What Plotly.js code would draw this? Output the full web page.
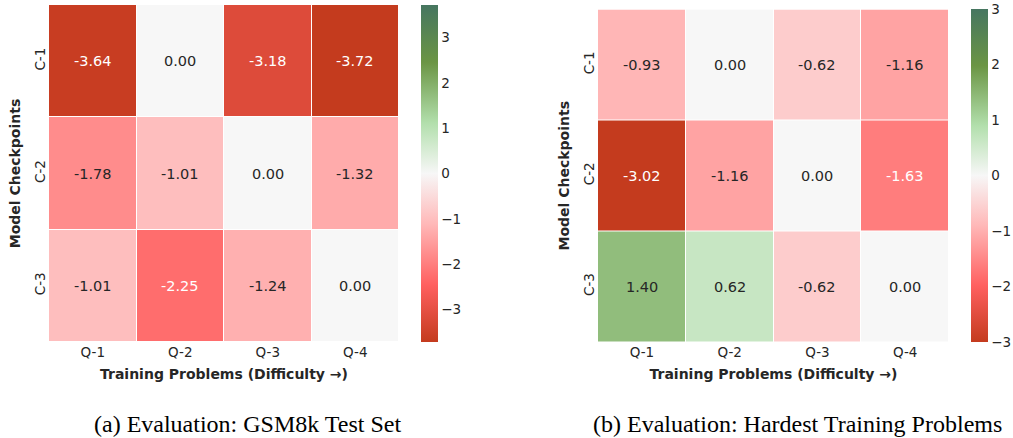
<!DOCTYPE html>
<html>
<head>
<meta charset="utf-8">
<script src="https://cdn.plot.ly/plotly-3.0.1.min.js"></script>
<style>
  html, body { margin: 0; padding: 0; background: #ffffff; }
  #chart { width: 1013px; height: 438px; }
</style>
</head>
<body>
<div id="chart"></div>
<script>
// ---- data ----
const problems = ['Q-1', 'Q-2', 'Q-3', 'Q-4'];
const checkpoints = ['C-1', 'C-2', 'C-3'];
const gsm8kValues = [
  [-3.64, 0.00, -3.18, -3.72],
  [-1.78, -1.01, 0.00, -1.32],
  [-1.01, -2.25, -1.24, 0.00]
];
const hardestValues = [
  [-0.93, 0.00, -0.62, -1.16],
  [-3.02, -1.16, 0.00, -1.63],
  [1.40, 0.62, -0.62, 0.00]
];
const gsm8kLimit = 3.72;
const hardestLimit = 3;
const colorbarTicks = [-3, -2, -1, 0, 1, 2, 3];
const captionA = '(a) Evaluation: GSM8k Test Set';
const captionB = '(b) Evaluation: Hardest Training Problems';
const xTitle = 'Training Problems (Difficulty \u2192)';
const yTitle = 'Model Checkpoints';

// ---- style ----
const W = 1013, H = 438;
const textDark = '#262626';
const colorscale = [
  [0.00, '#C43B1E'],
  [0.17, '#FF6060'],
  [0.35, '#FFB8B8'],
  [0.50, '#F7F7F7'],
  [0.65, '#B2DFAC'],
  [0.83, '#6B9544'],
  [1.00, '#467660']
];

function hexToRgb(h) {
  return [parseInt(h.slice(1,3),16), parseInt(h.slice(3,5),16), parseInt(h.slice(5,7),16)];
}
function colorAt(t) {
  t = Math.max(0, Math.min(1, t));
  for (let i = 1; i < colorscale.length; i++) {
    if (t <= colorscale[i][0]) {
      const [t0, c0] = colorscale[i-1], [t1, c1] = colorscale[i];
      const f = (t - t0) / (t1 - t0);
      const a = hexToRgb(c0), b = hexToRgb(c1);
      return a.map((v, k) => v + f * (b[k] - v));
    }
  }
  return hexToRgb(colorscale[colorscale.length-1][1]);
}
function luminance(rgb) {
  const lin = rgb.map(v => { v /= 255; return v <= 0.03928 ? v / 12.92 : Math.pow((v + 0.055) / 1.055, 2.4); });
  return 0.2126 * lin[0] + 0.7152 * lin[1] + 0.0722 * lin[2];
}

function cellAnnotations(values, limit, xref, yref) {
  const out = [];
  values.forEach((row, r) => row.forEach((v, c) => {
    const lum = luminance(colorAt((v + limit) / (2 * limit)));
    out.push({
      x: problems[c], y: checkpoints[r], xref: xref, yref: yref,
      text: v.toFixed(2), showarrow: false,
      font: { family: 'DejaVu Sans', size: 14.5, color: lum > 0.408 ? textDark : '#ffffff' }
    });
  }));
  return out;
}

function heat(values, limit, xa, ya, cbX, cbTop, cbBottom) {
  return {
    type: 'heatmap', x: problems, y: checkpoints, z: values,
    xaxis: xa, yaxis: ya,
    zmin: -limit, zmax: limit, colorscale: colorscale,
    xgap: 1, ygap: 1, hoverinfo: 'skip',
    colorbar: {
      x: cbX / W, xanchor: 'left', xpad: 0,
      y: 1 - ((cbTop + cbBottom) / 2) / H, yanchor: 'middle', ypad: 0,
      len: cbBottom - cbTop, lenmode: 'pixels',
      thickness: 17, thicknessmode: 'pixels',
      outlinewidth: 0, ticks: '',
      tickvals: colorbarTicks,
      tickfont: { family: 'DejaVu Sans', size: 13.5, color: textDark }
    }
  };
}

const axisFont = { family: 'DejaVu Sans', size: 13.5, color: textDark };
const titleFont = { family: 'DejaVu Sans', size: 14, color: textDark, weight: 700 };

function xAxis(domain, anchor) {
  return {
    domain: domain, anchor: anchor, showgrid: false, zeroline: false, showline: false,
    ticks: '', tickfont: axisFont, fixedrange: true,
    title: { text: xTitle, font: titleFont, standoff: 10 }
  };
}
function yAxis(domain, anchor) {
  return {
    domain: domain, anchor: anchor, autorange: 'reversed', showgrid: false, zeroline: false,
    showline: false, ticks: '', tickangle: -90, tickfont: axisFont, fixedrange: true,
    title: { text: yTitle, font: titleFont, standoff: 8 }
  };
}

const data = [
  heat(gsm8kValues, gsm8kLimit, 'x', 'y', 421, 5, 342),
  heat(hardestValues, hardestLimit, 'x2', 'y2', 971, 9.5, 342)
];

const layout = {
  width: W, height: H,
  margin: { l: 0, r: 0, t: 0, b: 0 },
  paper_bgcolor: '#ffffff', plot_bgcolor: '#ffffff',
  showlegend: false,
  xaxis: xAxis([49 / W, 399 / W], 'y'),
  yaxis: yAxis([1 - 342 / H, 1 - 5 / H], 'x'),
  xaxis2: xAxis([598 / W, 949 / W], 'y2'),
  yaxis2: yAxis([1 - 342 / H, 1 - 9.5 / H], 'x2'),
  annotations: [
    ...cellAnnotations(gsm8kValues, gsm8kLimit, 'x', 'y'),
    ...cellAnnotations(hardestValues, hardestLimit, 'x2', 'y2'),
    { text: captionA, xref: 'paper', yref: 'paper', x: 248 / W, y: 1 - 424 / H,
      xanchor: 'center', yanchor: 'middle', showarrow: false,
      font: { family: 'Liberation Serif', size: 24, color: '#000000' } },
    { text: captionB, xref: 'paper', yref: 'paper', x: 797.5 / W, y: 1 - 424 / H,
      xanchor: 'center', yanchor: 'middle', showarrow: false,
      font: { family: 'Liberation Serif', size: 24, color: '#000000' } }
  ]
};

Plotly.newPlot('chart', data, layout, { displayModeBar: false, staticPlot: true });
</script>
</body>
</html>
